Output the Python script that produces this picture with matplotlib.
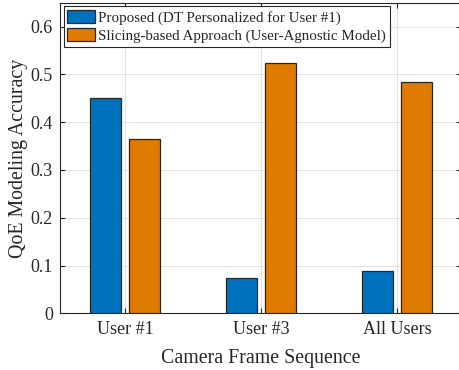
import matplotlib
matplotlib.use("Agg")
import matplotlib.pyplot as plt
import numpy as np

plt.rcParams['font.family'] = ['Liberation Serif', 'DejaVu Serif']
plt.rcParams['mathtext.fontset'] = 'stix'

# accuracy per camera frame sequence
sequences = ['User #1', 'User #3', 'All Users']
proposed = [0.451, 0.074, 0.088]
slicing = [0.365, 0.524, 0.484]
series_names = ['Proposed (DT Personalized for User #1)',
                'Slicing-based Approach (User-Agnostic Model)']

blue = '#0072BD'
orange = '#DF7C00'
edge = '#262626'

fig = plt.figure(figsize=(4.6, 3.7), dpi=100)
ax = fig.add_axes([0.1304, 0.1532, 0.872, 0.8395])

x = np.arange(1, len(sequences) + 1)
w = 0.228
off = 0.143
ax.bar(x - off, proposed, w, color=blue, edgecolor=edge, linewidth=0.9,
       label=series_names[0], zorder=3)
ax.bar(x + off, slicing, w, color=orange, edgecolor=edge, linewidth=0.9,
       label=series_names[1], zorder=3)

ax.set_xlim(0.52, 3.468)
ax.set_ylim(0, 0.65)
ax.set_xticks(x)
ax.set_xticklabels(sequences)
ax.set_yticks(np.arange(0, 0.61, 0.1))
ax.set_yticklabels(['0', '0.1', '0.2', '0.3', '0.4', '0.5', '0.6'])

ax.grid(True, color='#E3E3E3', linewidth=0.8, zorder=0)
ax.set_axisbelow(True)
for s in ax.spines.values():
    s.set_color(edge)
    s.set_linewidth(0.8)
ax.tick_params(direction='in', length=3.5, width=0.8, colors=edge,
               labelcolor='#262626', labelsize=13, top=True, right=True)
ax.tick_params(axis='x', pad=5.5)
ax.tick_params(axis='y', pad=5)

ax.set_xlabel('Camera Frame Sequence', fontsize=14.3, color='#262626', labelpad=8)
ax.set_ylabel('QoE Modeling Accuracy', fontsize=14.3, color='#262626', labelpad=2)

leg = ax.legend(loc='upper left', fontsize=10.8, frameon=True, fancybox=False,
                borderaxespad=0.25, handlelength=1.85, handleheight=0.95,
                handletextpad=0.2, borderpad=0.25, labelspacing=0.22)
leg.get_frame().set_edgecolor(edge)
leg.get_frame().set_linewidth(0.8)
leg.get_frame().set_alpha(1)
for t in leg.get_texts():
    t.set_color('#262626')

fig.savefig('out.png', dpi=100)
